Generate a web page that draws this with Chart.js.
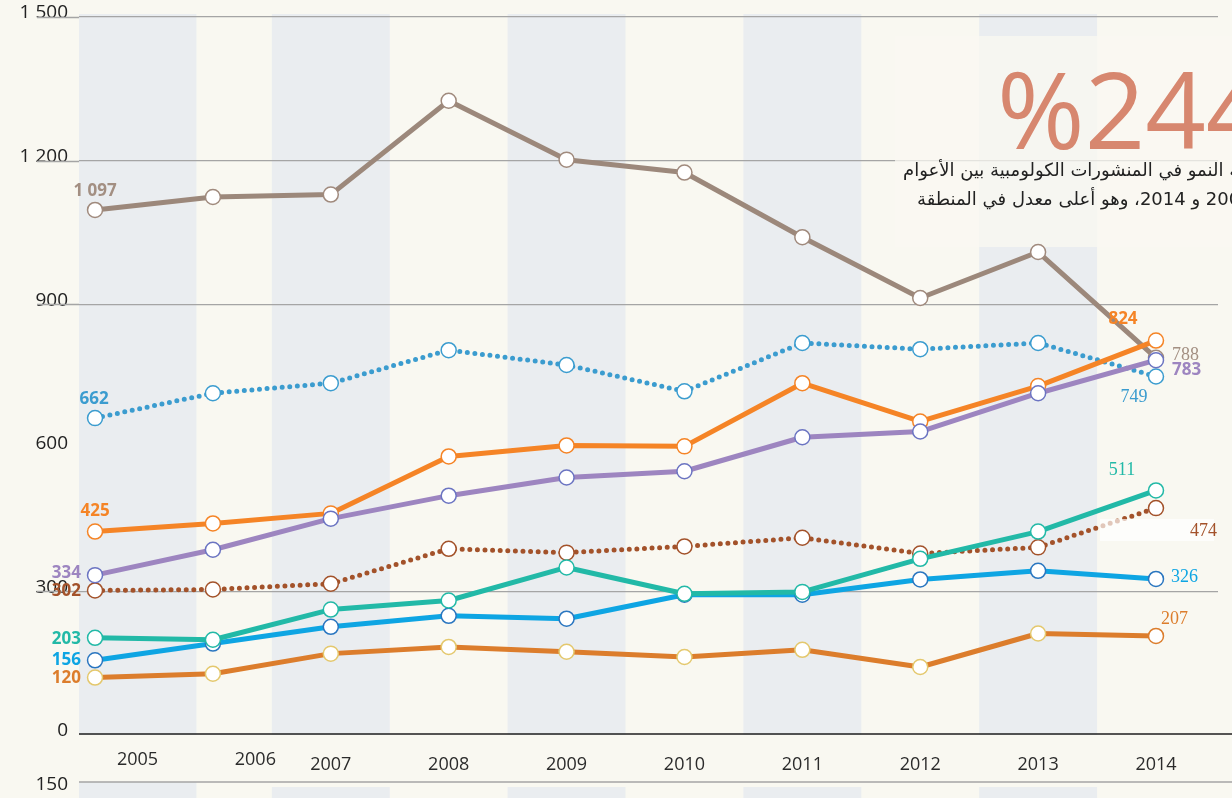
<!DOCTYPE html>
<html>
<head>
<meta charset="utf-8">
<script src="https://cdn.jsdelivr.net/npm/chart.js@4.4.1/dist/chart.umd.min.js"></script>
<style>
  html, body { margin: 0; padding: 0; background: #f9f8f1; }
  #wrap { width: 1232px; height: 798px; }
</style>
</head>
<body>
<div id="wrap"><canvas id="chart" width="1232" height="798"></canvas></div>
<script>
/* ─── Data ─── */
const YEARS        = [2005, 2006, 2007, 2008, 2009, 2010, 2011, 2012, 2013, 2014];
const Y_TICKS      = [0, 300, 600, 900, 1200, 1500];
const GRID_VALUES  = [300, 900, 1200, 1500];      // no rule at 600 in the original
const BAND_YEARS   = [2005, 2007, 2009, 2011, 2013];
const NEXT_TICK    = '150';                        // first tick of the panel below

const purpleLine   = [334, 387, 452, 500, 538, 551, 622, 634, 714, 783];
const orangeLine   = [425, 442, 463, 582, 605, 603, 735, 655, 729, 824];
const tealLine     = [203, 199, 262, 281, 350, 295, 299, 368, 425, 511];
const blueLine     = [156, 191, 226, 249, 243, 293, 293, 325, 343, 326];
const greyLine     = [1097, 1124, 1129, 1325, 1202, 1175, 1040, 913, 1009, 788];
const blueDotted   = [662, 714, 735, 804, 773, 718, 819, 806, 819, 749];
const brownDotted  = [302, 304, 316, 389, 381, 394, 412, 379, 392, 474];
const copperLine   = [120, 128, 170, 184, 174, 163, 178, 142, 212, 207];

const BIG_FIGURE = '%244';
const NOTE_LINES = [
  'نسبة النمو في المنشورات الكولومبية بين الأعوام',
  '2005 و 2014، وهو أعلى معدل في المنطقة',
];

/* ─── Styles ─── */
const BG      = '#f9f8f1';
const BAND    = '#eaedf0';
const RULE    = '#a5a5a5';
const SANS    = "'Open Sans', 'Noto Sans', sans-serif";
const SERIF   = "'Liberation Serif', 'DejaVu Serif', serif";

// first entry is drawn on top
const SERIES = [
  { values: purpleLine,  color: '#9d85c0', point: '#6b74c2', dotted: false,
    first: { dx: -14, dy: -2,  align: 'right' },
    last:  { dx: 16,  dy: 10,  align: 'left',   bold: true } },
  { values: orangeLine,  color: '#f58426', point: '#f58426', dotted: false,
    first: { dx: 0,   dy: -20, align: 'center' },
    last:  { dx: -33, dy: -21, align: 'center', bold: true } },
  { values: tealLine,    color: '#22b9a7', point: '#22b9a7', dotted: false,
    first: { dx: -14, dy: 1,   align: 'right' },
    last:  { dx: -34, dy: -20, align: 'center' } },
  { values: blueLine,    color: '#0ea5e3', point: '#2a76c0', dotted: false,
    first: { dx: -14, dy: 0,   align: 'right' },
    last:  { dx: 15,  dy: -2,  align: 'left' } },
  { values: greyLine,    color: '#9c887b', point: '#a08a7d', dotted: false, label: '#a38f82',
    first: { dx: 0,   dy: -19, align: 'center' },
    last:  { dx: 16,  dy: -3,  align: 'left' } },
  { values: blueDotted,  color: '#3b9ccf', point: '#3b9ccf', dotted: true,
    first: { dx: -1,  dy: -19, align: 'center' },
    last:  { dx: -22, dy: 21,  align: 'center' } },
  { values: brownDotted, color: '#a3522a', point: '#a3522a', dotted: true,
    first: { dx: -14, dy: 1,   align: 'right' },
    last:  { dx: 34,  dy: 23,  align: 'left' } },
  { values: copperLine,  color: '#dc7d2c', point: '#e4c86d', lastPoint: '#dc7d2c', dotted: false,
    first: { dx: -14, dy: 1,   align: 'right' },
    last:  { dx: 5,   dy: -17, align: 'left' } },
];

// first two column labels/bands sit off their points in the original
const COLUMN_SHIFT = { 2005: 0.36, 2006: 0.36 };

function fmt(v) {
  return String(v).replace(/\B(?=(\d{3})+(?!\d))/g, ' ');
}

/* ─── Plugins ─── */
const backdrop = {
  id: 'backdrop',
  beforeDraw(chart) {
    const { ctx, chartArea: a, scales: { x } } = chart;
    ctx.save();
    ctx.fillStyle = BG;
    ctx.fillRect(0, 0, chart.width, chart.height);
    ctx.fillStyle = BAND;
    BAND_YEARS.forEach(yr => {
      const c = yr + (COLUMN_SHIFT[yr] || 0);
      const l = Math.max(a.left, x.getPixelForValue(c - 0.5));
      const r = x.getPixelForValue(c + 0.5);
      ctx.fillRect(l, 14, r - l, a.bottom - 14);
      ctx.fillRect(l, yr === 2005 ? 782 : 787, r - l, chart.height);
    });
    ctx.restore();
  },
  beforeDatasetsDraw(chart) {
    const { ctx, chartArea: a, scales: { y } } = chart;
    ctx.save();
    // rules run out under the tick labels
    ctx.strokeStyle = RULE;
    ctx.lineWidth = 1.3;
    GRID_VALUES.forEach(v => {
      const py = Math.round(y.getPixelForValue(v)) + 0.5;
      ctx.beginPath();
      ctx.moveTo(37, py);
      ctx.lineTo(a.left, py);
      ctx.stroke();
    });
    // pale panel behind the headline
    ctx.fillStyle = 'rgba(249,248,241,0.75)';
    ctx.fillRect(895, 36, chart.width - 895, 211);
    ctx.restore();
  },
};

const annotate = {
  id: 'annotate',
  afterDatasetsDraw(chart) {
    const { ctx, chartArea: a, scales: { x, y } } = chart;
    ctx.save();

    // white tab behind the 474 label
    ctx.fillStyle = 'rgba(255,255,255,0.68)';
    ctx.fillRect(1100, 519, 114, 22);

    // axis line + year labels
    const y0 = y.getPixelForValue(0) - 1;
    ctx.strokeStyle = '#1e1e1e';
    ctx.lineWidth = 1.3;
    ctx.beginPath();
    ctx.moveTo(a.left, y0);
    ctx.lineTo(chart.width, y0);
    ctx.stroke();

    ctx.fillStyle = '#2b2b2b';
    ctx.font = `18px ${SANS}`;
    ctx.textAlign = 'center';
    ctx.textBaseline = 'middle';
    YEARS.forEach(yr => {
      const shift = COLUMN_SHIFT[yr] || 0;
      ctx.fillText(String(yr), x.getPixelForValue(yr + shift), shift ? 760 : 765);
    });

    // start of the next panel
    ctx.strokeStyle = RULE;
    ctx.beginPath();
    ctx.moveTo(a.left, 782);
    ctx.lineTo(chart.width, 782);
    ctx.stroke();
    ctx.fillStyle = '#222';
    ctx.font = `19px ${SANS}`;
    ctx.textAlign = 'right';
    ctx.fillText(NEXT_TICK, 68, 785);

    // value labels at both ends
    SERIES.forEach((s, i) => {
      const pts = chart.getDatasetMeta(i).data;
      const col = s.label || s.color;
      [['first', 0], ['last', pts.length - 1]].forEach(([k, idx]) => {
        const o = s[k];
        const serif = k === 'last' && !o.bold;
        ctx.font = serif ? `18px ${SERIF}` : `bold 17px ${SANS}`;
        ctx.fillStyle = col;
        ctx.textAlign = o.align;
        ctx.fillText(fmt(s.values[idx]), pts[idx].x + o.dx, pts[idx].y + o.dy);
      });
    });

    // headline figure and note
    ctx.fillStyle = '#d7876f';
    ctx.font = `106px ${SANS}`;
    ctx.textAlign = 'left';
    ctx.textBaseline = 'alphabetic';
    ctx.fillText(BIG_FIGURE, 997, 149);

    ctx.fillStyle = '#222';
    ctx.font = "18px 'DejaVu Sans', sans-serif";
    ctx.direction = 'rtl';
    ctx.textAlign = 'left';
    ctx.textBaseline = 'middle';
    ctx.fillText(NOTE_LINES[0], 903, 171);
    ctx.fillText(NOTE_LINES[1], 917, 200);
    ctx.restore();
  },
};

/* ─── Chart ─── */
const chart = new Chart(document.getElementById('chart'), {
  type: 'line',
  data: {
    datasets: SERIES.map(s => ({
      data: YEARS.map((yr, i) => ({ x: yr, y: s.values[i] })),
      borderColor: s.color,
      borderWidth: 5,
      borderDash: s.dotted ? [0, 7.6] : [],
      borderCapStyle: s.dotted ? 'round' : 'butt',
      borderJoinStyle: 'round',
      tension: 0,
      pointRadius: 7.5,
      pointBorderWidth: 1.5,
      pointBackgroundColor: '#ffffff',
      pointBorderColor: YEARS.map((yr, i) =>
        (i === YEARS.length - 1 && s.lastPoint) ? s.lastPoint : s.point),
    })),
  },
  options: {
    responsive: false,
    animation: false,
    events: [],
    layout: { padding: { left: 0, right: 14, top: 17, bottom: 63 } },
    plugins: { legend: { display: false }, tooltip: { enabled: false } },
    scales: {
      x: {
        type: 'linear',
        min: 2004.864,
        max: 2014.526,
        display: false,
      },
      y: {
        min: 0,
        max: 1500,
        afterBuildTicks: s => { s.ticks = Y_TICKS.map(v => ({ value: v })); },
        afterFit: s => { s.width = 79; s.paddingTop = 0; s.paddingBottom = 0; },
        border: { display: false },
        grid: {
          color: c => GRID_VALUES.includes(c.tick.value) ? RULE : 'rgba(0,0,0,0)',
          lineWidth: 1.3,
          drawTicks: false,
        },
        ticks: {
          padding: 11,
          labelOffset: -4,
          color: '#222',
          font: { family: SANS, size: 19 },
          callback: v => fmt(v),
        },
      },
    },
  },
  plugins: [backdrop, annotate],
});
</script>
</body>
</html>
